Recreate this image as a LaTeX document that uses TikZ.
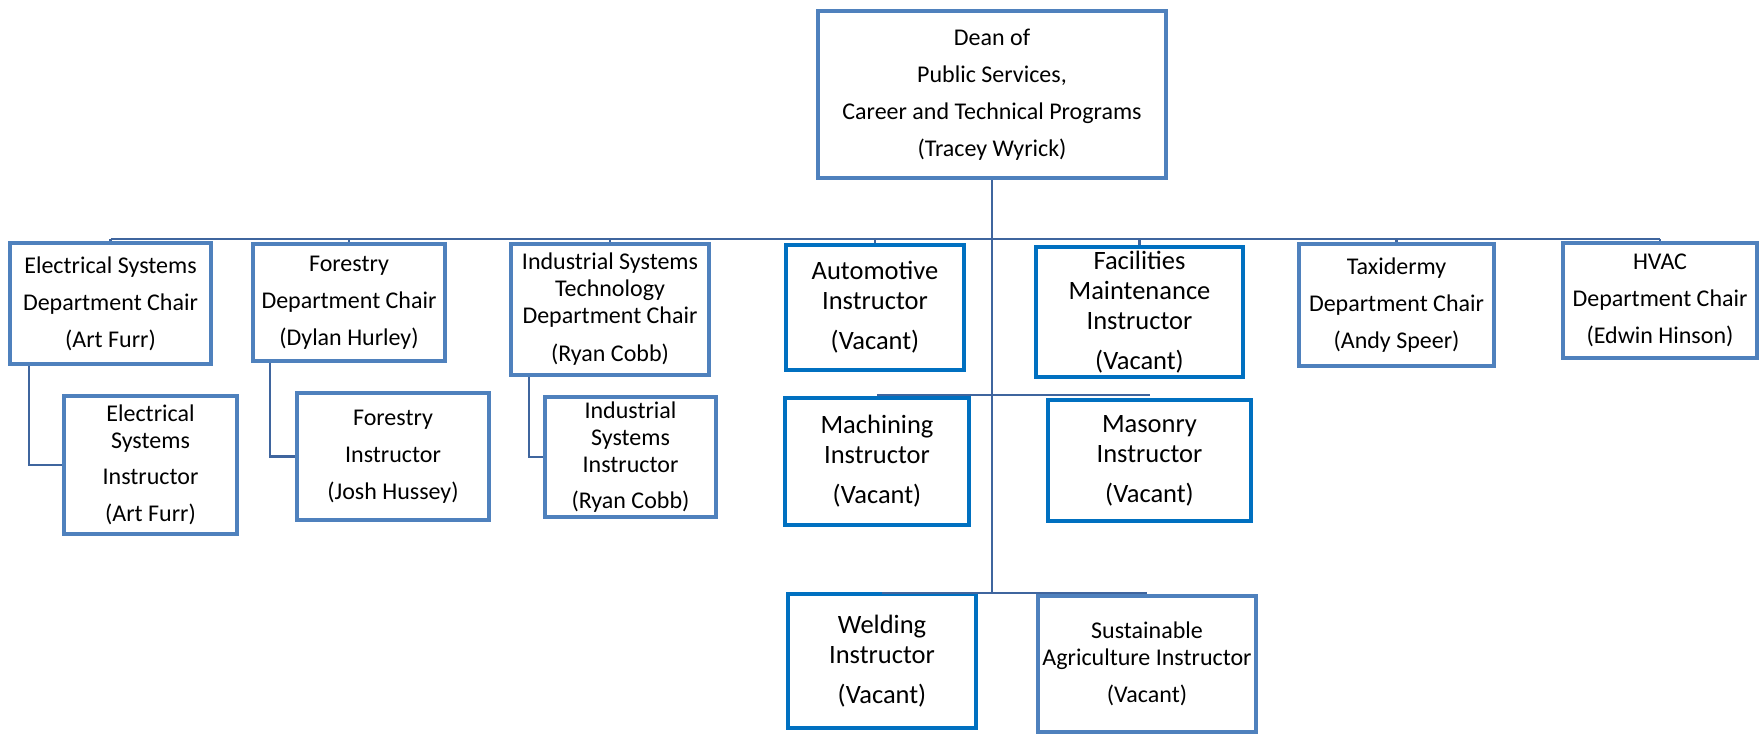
\documentclass[tikz,border=0pt]{standalone}
\usepackage{fontspec}
\setmainfont{Carlito}

\definecolor{chairblue}{HTML}{4F81BD}
\definecolor{vacblue}{HTML}{0070C0}
\definecolor{linkblue}{HTML}{3F659E}

\tikzset{
  chair/.style={draw=chairblue, line width=4.5pt, fill=white, align=center, inner sep=0pt, font=\fontsize{24}{27}\selectfont},
  vacant/.style={chair, draw=vacblue, font=\fontsize{26.5}{30}\selectfont},
  link/.style={draw=linkblue, line width=2.5pt},
}

\begin{document}
\begin{tikzpicture}[x=1pt, y=-1pt]
  \useasboundingbox (0,0) rectangle (1761,734);

  % Draw dean
  \node[chair, minimum width=348pt, minimum height=167pt] (dean) at (992,94.5) {Dean of\\[10pt]Public Services,\\[10pt]Career and Technical Programs\\[10pt](Tracey Wyrick)};

  % Draw department chairs and instructors of the top row
  \node[chair, minimum width=201pt, minimum height=121pt] (elecchair) at (110.5,303.5) {Electrical Systems\\[10pt]Department Chair\\[10pt](Art Furr)};
  \node[chair, minimum width=192pt, minimum height=117pt] (forchair) at (349,302.5) {Forestry\\[10pt]Department Chair\\[10pt](Dylan Hurley)};
  \node[chair, minimum width=198pt, minimum height=131pt] (indchair) at (610,309.5) {Industrial Systems\\Technology\\Department Chair\\[11pt](Ryan Cobb)};
  \node[vacant, minimum width=178pt, minimum height=125pt] (auto) at (875,307.5) {Automotive\\Instructor\\[10pt](Vacant)};
  \node[vacant, minimum width=207pt, minimum height=130pt] (facil) at (1139.5,312) {Facilities\\Maintenance\\Instructor\\[10pt](Vacant)};
  \node[chair, minimum width=195pt, minimum height=122pt] (taxi) at (1396.5,305) {Taxidermy\\[10pt]Department Chair\\[10pt](Andy Speer)};
  \node[chair, minimum width=194pt, minimum height=115pt] (hvac) at (1660,300.5) {HVAC\\[10pt]Department Chair\\[10pt](Edwin Hinson)};

  % Draw instructors below the chairs
  \node[chair, minimum width=173pt, minimum height=138pt] (elecinst) at (150.5,465) {Electrical\\Systems\\[9pt]Instructor\\[10pt](Art Furr)};
  \node[chair, minimum width=192pt, minimum height=127pt] (forinst) at (393,456.5) {Forestry\\[10pt]Instructor\\[10pt](Josh Hussey)};
  \node[chair, minimum width=171pt, minimum height=120pt] (indinst) at (630.5,457) {Industrial\\Systems\\Instructor\\[9pt](Ryan Cobb)};
  \node[vacant, minimum width=184pt, minimum height=127pt] (mach) at (877,461.5) {Machining\\Instructor\\[10pt](Vacant)};
  \node[vacant, minimum width=203pt, minimum height=121pt] (mason) at (1149.5,460.5) {Masonry\\Instructor\\[10pt](Vacant)};
  \node[vacant, minimum width=188pt, minimum height=134pt] (weld) at (882,661) {Welding\\Instructor\\[10pt](Vacant)};
  \node[chair, minimum width=218pt, minimum height=136pt] (sustag) at (1147,664) {Sustainable\\Agriculture Instructor\\[10pt](Vacant)};

  % Draw trunk and buses
  \coordinate (topbus) at (992,239);
  \coordinate (midbus) at (992,395);
  \coordinate (lowbus) at (992,593);
  \draw[link] (dean.south) -- (lowbus);
  \draw[link] (elecchair.north |- topbus) -- (hvac.north |- topbus);
  \foreach \n in {elecchair,forchair,indchair,auto,facil,taxi,hvac}
    \draw[link] (\n.north) -- (\n.north |- topbus);
  \draw[link] (mach.north |- midbus) -- (mason.north |- midbus);
  \draw[link] (weld.north |- lowbus) -- (sustag.north |- lowbus);

  % Draw side links chair -> instructor
  \draw[link] ([xshift=21pt]elecchair.south west) |- (elecinst.west);
  \draw[link] ([xshift=19pt]forchair.south west) |- (forinst.west);
  \draw[link] ([xshift=20pt]indchair.south west) |- (indinst.west);
\end{tikzpicture}
\end{document}
